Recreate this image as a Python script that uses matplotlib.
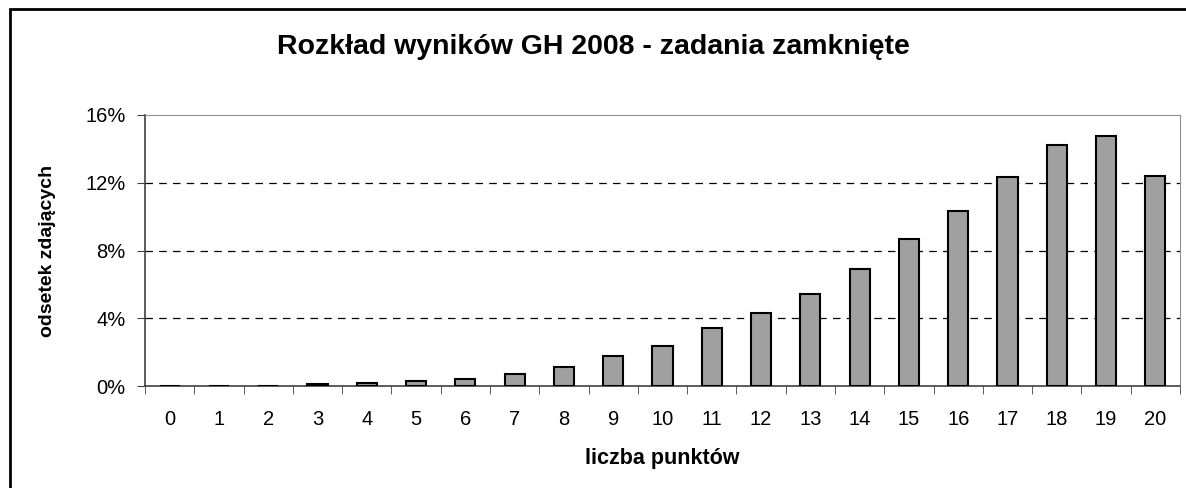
import matplotlib
matplotlib.use("Agg")
import matplotlib.pyplot as plt
from matplotlib.patches import Rectangle
from matplotlib.ticker import FixedLocator, FuncFormatter

plt.rcParams['font.family'] = ['Liberation Sans', 'DejaVu Sans']

# data (percent of students per score)
punkty = list(range(21))
odsetek = [0.0, 0.0, 0.0, 0.1, 0.19, 0.3, 0.41, 0.73, 1.14, 1.77, 2.38,
           3.44, 4.29, 5.43, 6.88, 8.67, 10.34, 12.33, 14.24, 14.75, 12.41]
yticks = [0, 4, 8, 12, 16]

fig = plt.figure(figsize=(11.86, 4.88), dpi=100)
ax = fig.add_axes([145 / 1186, 1 - 386 / 488, 1035 / 1186, 271 / 488])

ax.bar(punkty, odsetek, width=0.41, color='#a0a0a0', edgecolor='black',
       linewidth=1.5, zorder=3)

ax.set_xlim(-0.5, 20.5)
ax.set_ylim(0, 16)
ax.set_yticks(yticks)
ax.yaxis.set_major_formatter(FuncFormatter(lambda v, p: '%d%%' % v))
ax.set_xticks(punkty)
ax.tick_params(axis='x', which='major', length=0, pad=17, labelsize=14.5)
ax.xaxis.set_minor_locator(FixedLocator([i - 0.5 for i in range(22)]))
ax.tick_params(axis='x', which='minor', length=6, color='#404040')
ax.tick_params(axis='y', length=6, pad=8, labelsize=14.5, color='#404040')

for y in yticks[1:-1]:
    ax.axhline(y, color='black', linestyle=(0, (6, 5)), linewidth=0.9, zorder=1)

for s in ['top', 'right']:
    ax.spines[s].set_color('#909090')
for s in ['left', 'bottom']:
    ax.spines[s].set_color('#404040')
    ax.spines[s].set_linewidth(1.2)

ax.set_xlabel('liczba punktów', fontsize=15.5, fontweight='bold', labelpad=14)
ax.set_ylabel('odsetek zdających', fontsize=14, fontweight='bold', labelpad=21)

fig.text(0.5, 1 - 46.5 / 488, 'Rozkład wyników GH 2008 - zadania zamknięte',
         ha='center', va='center', fontsize=20.5, fontweight='bold')

fig.patches.append(Rectangle((10 / 1186, -0.1), 1.2, 1 - 9 / 488 + 0.1,
                             transform=fig.transFigure, fill=False,
                             edgecolor='black', linewidth=2))

fig.savefig('out.png', dpi=100)
